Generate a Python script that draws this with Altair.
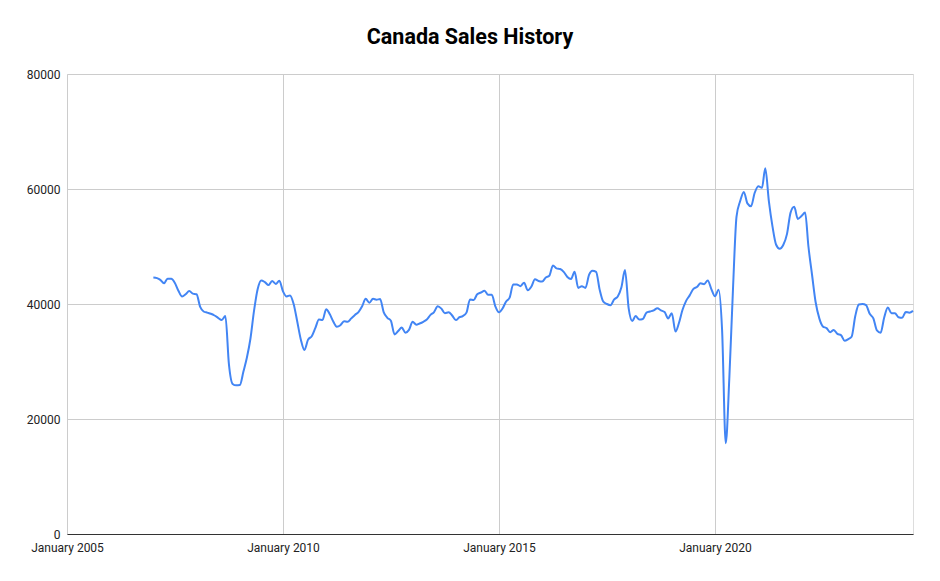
import altair as alt
import pandas as pd

# Monthly sales, Jan 2007 .. Aug 2024
v2007 = [44600, 44500, 44200, 43600, 44400, 44400, 43700, 42300, 41300, 41700, 42250, 41800]
v2008 = [41700, 39500, 38700, 38500, 38300, 38000, 37600, 37200, 37900, 29500, 26100, 25850]
v2009 = [25900, 28300, 30600, 34000, 38800, 42600, 44100, 43800, 43300, 44000, 43500, 44050]
v2010 = [42200, 41300, 41500, 40000, 37000, 33800, 32000, 33800, 34400, 35800, 37300, 37200]
v2011 = [39100, 38200, 37000, 36050, 36300, 37000, 36900, 37500, 38100, 38600, 39600, 40900]
v2012 = [40200, 40900, 40750, 40850, 38600, 37600, 37100, 34700, 35300, 35900, 35000, 35500]
v2013 = [36900, 36400, 36600, 36900, 37300, 38100, 38600, 39600, 39200, 38400, 38550, 38000]
v2014 = [37200, 37700, 37900, 38500, 40800, 40700, 41700, 42000, 42300, 41600, 41600, 39600]
v2015 = [38550, 39250, 40400, 41100, 43400, 43400, 43100, 43700, 42400, 43000, 44300, 44000]
v2016 = [43900, 44600, 44900, 46700, 46200, 46100, 45600, 44700, 44350, 45600, 42800, 43100]
v2017 = [42800, 45100, 45800, 45600, 42500, 40400, 40000, 39800, 40800, 41300, 42900, 45900]
v2018 = [39300, 37050, 37900, 37300, 37400, 38500, 38700, 38900, 39250, 38900, 38600, 37500]
v2019 = [38400, 35200, 36600, 38950, 40500, 41500, 42600, 42950, 43600, 43450, 44100, 42600]
v2020 = [41350, 42500, 35500, 15800, 27000, 42500, 55200, 57900, 59500, 57500, 57000, 59300]
v2021 = [60500, 60200, 63600, 57800, 53500, 50300, 49600, 50300, 52200, 55900, 56900, 54800]
v2022 = [55300, 55900, 50000, 45000, 40300, 37500, 36100, 35800, 35100, 35500, 34800, 34600]
v2023 = [33600, 33900, 34300, 37900, 39900, 40000, 39800, 38300, 37500, 35400, 35000, 37600]
v2024 = [39400, 38400, 38400, 37700, 37600, 38600, 38500, 38800]

values = (v2007 + v2008 + v2009 + v2010 + v2011 + v2012 + v2013 + v2014 + v2015
          + v2016 + v2017 + v2018 + v2019 + v2020 + v2021 + v2022 + v2023 + v2024)
dates = pd.date_range("2007-01-01", periods=len(values), freq="MS").strftime("%Y-%m-%dT00:00:00")

tick_years = [2005, 2010, 2015, 2020]
y_ticks = [0, 20000, 40000, 60000, 80000]

df = pd.DataFrame({"date": list(dates), "sales": values})

FONT = "Roboto"

chart = (
    alt.Chart(df)
    .mark_line(color="#4285F4", strokeWidth=2, interpolate="monotone")
    .encode(
        x=alt.X(
            "date:T",
            title=None,
            scale=alt.Scale(
                domain=[alt.DateTime(year=2005, month=1, date=1),
                        alt.DateTime(year=2024, month=8, date=1)],
                nice=False,
            ),
            axis=alt.Axis(
                values=[alt.DateTime(year=y, month=1, date=1) for y in tick_years],
                format="%B %Y",
                grid=True,
                gridColor="#cccccc",
                ticks=False,
                domain=True,
                domainColor="#333333",
                domainWidth=1,
                labelPadding=8,
                labelFontSize=12,
                labelColor="#222222",
                labelFont=FONT,
                labelFlush=False,
                labelOverlap=False,
            ),
        ),
        y=alt.Y(
            "sales:Q",
            title=None,
            scale=alt.Scale(domain=[0, 80000], nice=False),
            axis=alt.Axis(
                values=y_ticks,
                format="d",
                grid=True,
                gridColor="#cccccc",
                ticks=False,
                domain=False,
                labelPadding=7,
                labelFontSize=12,
                labelColor="#222222",
                labelFont=FONT,
            ),
        ),
    )
    .properties(
        width=846,
        height=460,
        title=alt.TitleParams(
            "Canada Sales History",
            font=FONT,
            fontSize=21.5,
            fontWeight="bold",
            color="#000000",
            anchor="middle",
            dx=-20,
            offset=20,
        ),
        autosize=alt.AutoSizeParams(type="none"),
        padding={"left": 67, "top": 74, "right": 27, "bottom": 47},
    )
    .configure_view(stroke=None)
    .configure(background="white")
)

chart.save("out.html", embed_options={"renderer": "svg", "actions": False})
